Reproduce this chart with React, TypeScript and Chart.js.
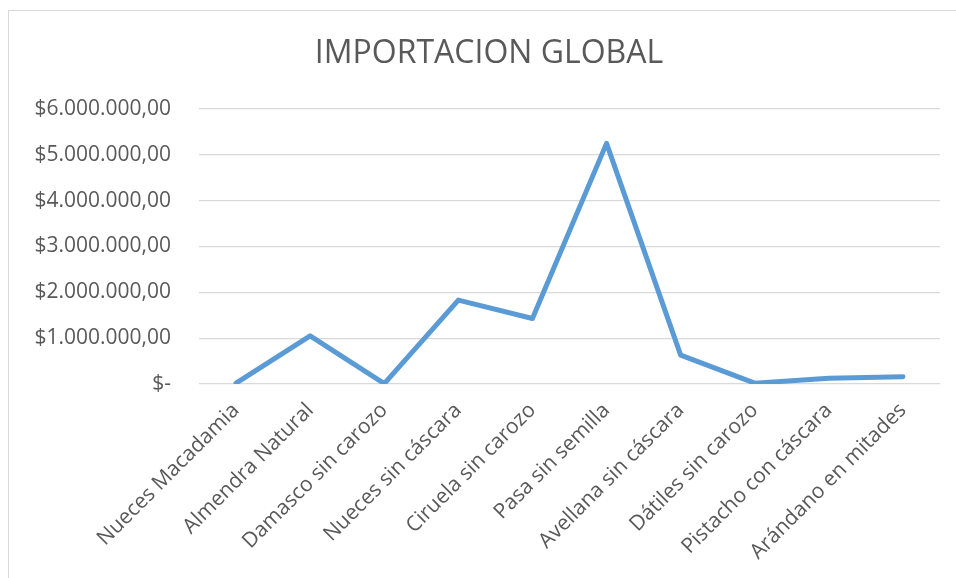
import React, { useEffect, useRef } from "react";
import { Chart, registerables } from "chart.js";

Chart.register(...registerables);

const categories = [
  "Nueces Macadamia",
  "Almendra Natural",
  "Damasco sin carozo",
  "Nueces sin cáscara",
  "Ciruela sin carozo",
  "Pasa sin semilla",
  "Avellana sin cáscara",
  "Dátiles sin carozo",
  "Pistacho con cáscara",
  "Arándano en mitades",
];

const importValues = [
  18000, 1050000, 8000, 1830000, 1430000, 5250000, 630000, 18000, 125000, 160000,
];

const yTickLabels = [
  "$-",
  "$1.000.000,00",
  "$2.000.000,00",
  "$3.000.000,00",
  "$4.000.000,00",
  "$5.000.000,00",
  "$6.000.000,00",
];

const title = "IMPORTACION GLOBAL";

const FONT = "'Open Sans', 'Noto Sans', sans-serif";
const TEXT = "#595959";

export default function App() {
  const ref = useRef<HTMLCanvasElement | null>(null);

  useEffect(() => {
    if (!ref.current) return;
    const chart = new Chart(ref.current, {
      type: "line",
      data: {
        labels: categories,
        datasets: [
          {
            label: "Importación",
            data: importValues,
            borderColor: "#5B9BD5",
            backgroundColor: "#5B9BD5",
            borderWidth: 5,
            pointRadius: 0,
            tension: 0,
            borderCapStyle: "round",
            borderJoinStyle: "round",
            fill: false,
            yAxisID: "y",
          },
        ],
      },
      options: {
        responsive: false,
        animation: false,
        maintainAspectRatio: false,
        layout: { padding: 0 },
        plugins: {
          legend: { display: false },
          tooltip: { enabled: false },
          title: {
            display: true,
            text: title,
            color: TEXT,
            font: { family: FONT, size: 32, weight: "normal", lineHeight: 1.2 },
            padding: { top: 25, bottom: 35.6 },
          },
        },
        scales: {
          x: {
            type: "category",
            offset: true,
            grid: { display: false, drawTicks: false },
            border: { display: false },
            ticks: {
              color: TEXT,
              font: { family: FONT, size: 21 },
              minRotation: 45,
              maxRotation: 45,
              padding: 14,
              autoSkip: false,
            },
            afterFit: (scale: any) => {
              scale.height = 194;
            },
          },
          y: {
            position: "left",
            min: 0,
            max: 6000000,
            grid: { color: "#d9d9d9", lineWidth: 1.3, drawTicks: false },
            border: { display: false },
            ticks: {
              stepSize: 1000000,
              color: TEXT,
              font: { family: FONT, size: 21 },
              padding: 28,
              callback: (_v: any, i: number) => yTickLabels[i],
            },
            afterFit: (scale: any) => {
              scale.width = 191;
            },
          },
          yRight: {
            position: "right",
            display: true,
            min: 0,
            max: 6000000,
            grid: { display: false, drawTicks: false },
            border: { display: false },
            ticks: { display: false },
            afterFit: (scale: any) => {
              scale.width = 30;
            },
          },
        },
      },
    });
    return () => chart.destroy();
  }, []);

  return (
    <div
      style={{
        position: "fixed",
        left: 0,
        top: 0,
        width: 956,
        height: 578,
        overflow: "hidden",
        background: "#fff",
      }}
    >
      <div
        style={{
          position: "absolute",
          left: 8,
          top: 10,
          width: 1000,
          height: 700,
          border: "1.5px solid #d9d9d9",
          boxSizing: "border-box",
        }}
      />
      <canvas
        ref={ref}
        width={962}
        height={568}
        style={{ position: "absolute", left: 8, top: 10, width: 962, height: 568 }}
      />
    </div>
  );
}
